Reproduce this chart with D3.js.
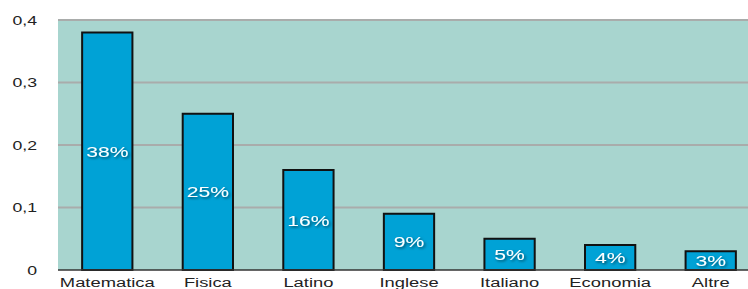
<!DOCTYPE html>
<html>
<head>
<meta charset="utf-8">
<script src="https://cdn.jsdelivr.net/npm/d3@7"></script>
<style>
  body { margin: 0; background: #fff; }
  svg { display: block; font-family: "Liberation Sans", Arial, sans-serif; }
</style>
</head>
<body>
<svg id="chart" width="748" height="289"></svg>
<script>
const categories = ["Matematica", "Fisica", "Latino", "Inglese", "Italiano", "Economia", "Altre"];
const values = [0.38, 0.25, 0.16, 0.09, 0.05, 0.04, 0.03];
const yTicks = [0, 0.1, 0.2, 0.3, 0.4];

const margin = {top: 20, left: 58, bottom: 19};
const width = 748, height = 289;
const plotBottom = height - margin.bottom;
// the source lettering is drawn wide, so texts get stretched sideways
const stretch = "scale(1.36,1)";

const svg = d3.select("#chart");

const defs = svg.append("defs");
const f = defs.append("filter").attr("id", "shadow").attr("x", "-20%").attr("y", "-40%").attr("width", "140%").attr("height", "180%");
f.append("feDropShadow").attr("dx", 1).attr("dy", 1.5).attr("stdDeviation", 1.2)
  .attr("flood-color", "#000").attr("flood-opacity", 0.55);

const x = d3.scaleBand()
  .domain(categories)
  .range([margin.left, 760])
  .paddingInner(0.5)
  .paddingOuter(0.24);

const y = d3.scaleLinear()
  .domain([0, 0.4])
  .range([plotBottom, margin.top]);

// plot background
svg.append("rect")
  .attr("x", margin.left).attr("y", y(0.4))
  .attr("width", width - margin.left).attr("height", y(0) - y(0.4))
  .attr("fill", "#a8d5cf");

// gridlines
svg.append("g")
  .selectAll("line")
  .data(yTicks.filter(d => d > 0))
  .join("line")
  .attr("x1", margin.left).attr("x2", width)
  .attr("y1", d => y(d)).attr("y2", d => y(d))
  .attr("stroke", "#a9acab").attr("stroke-width", 2);

// y axis labels
const fmt = d => d === 0 ? "0" : d3.format(".1f")(d).replace(".", ",");
svg.append("g")
  .attr("transform", `translate(${margin.left - 21},0)`)
  .call(d3.axisLeft(y).tickValues(yTicks).tickFormat(fmt).tickSize(0).tickPadding(0))
  .call(g => g.select(".domain").remove())
  .call(g => g.selectAll("text").attr("font-size", 13).attr("fill", "#222")
    .attr("font-family", "Liberation Sans, Arial, sans-serif").attr("dy", "0.33em")
    .attr("transform", stretch));

// bars
svg.append("g")
  .selectAll("rect")
  .data(values)
  .join("rect")
  .attr("x", (d, i) => x(categories[i]))
  .attr("y", d => y(d))
  .attr("width", x.bandwidth())
  .attr("height", d => y(0) - y(d))
  .attr("fill", "#00a2d6")
  .attr("stroke", "#111")
  .attr("stroke-width", 2);

// baseline
svg.append("line")
  .attr("x1", margin.left).attr("x2", width)
  .attr("y1", y(0)).attr("y2", y(0))
  .attr("stroke", "#333").attr("stroke-width", 1.5);

// value labels
svg.append("g")
  .selectAll("text")
  .data(values)
  .join("text")
  .attr("transform", (d, i) => `translate(${x(categories[i]) + x.bandwidth() / 2},${(y(d) + y(0)) / 2}) ${stretch}`)
  .attr("dy", "0.36em")
  .attr("text-anchor", "middle")
  .attr("font-size", 15.5)
  .attr("fill", "#fff")
  .attr("filter", "url(#shadow)")
  .text(d => Math.round(d * 100) + "%");

// category labels
svg.append("g")
  .attr("transform", `translate(0,${plotBottom})`)
  .call(d3.axisBottom(x).tickSize(0).tickPadding(7))
  .call(g => g.select(".domain").remove())
  .call(g => g.selectAll("text").attr("font-size", 13.5).attr("fill", "#222")
    .attr("font-family", "Liberation Sans, Arial, sans-serif")
    .attr("transform", stretch));
</script>
</body>
</html>
